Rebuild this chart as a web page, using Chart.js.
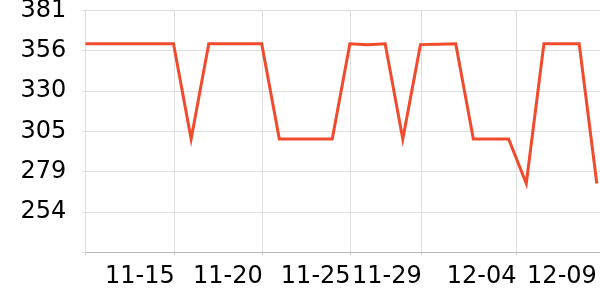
<!DOCTYPE html>
<html>
<head>
<meta charset="utf-8">
<script src="https://cdn.jsdelivr.net/npm/chart.js@4"></script>
<style>
  html, body { margin: 0; padding: 0; background: #fff; }
  #wrap { width: 600px; height: 300px; position: relative; }
</style>
</head>
<body>
<div id="wrap"><canvas id="c"></canvas></div>
<script>
// Day offsets from 11-10 (one reading per day)
const dayOffsets = [0,1,2,3,4,5,6,7,8,9,10,11,12,13,14,15,16,17,18,19,20,21,22,23,24,25,26,27,28,29];
const values = [360,360,360,360,360,360,300,360,360,360,360,300,300,300,300,360,359.4,360,300,359.5,359.8,360,300,300,300,272,360,360,360,272];
// X tick marks (day offsets) and their labels
const xTickDays = [0, 5.07, 10.06, 15.04, 19.07, 24.45, 29];
const xTickLabels = ['', '11-15', '11-20', '11-25', '11-29', '12-04', '12-09'];
const xMax = 29.18;
// Y ticks (mm; whole inches)
const yTicks = [228.6, 254, 279.4, 304.8, 330.2, 355.6, 381];

new Chart(document.getElementById('c'), {
  type: 'line',
  data: {
    datasets: [{
      data: dayOffsets.map((d, i) => ({ x: d, y: values[i] })),
      borderColor: '#ef4b2c',
      borderWidth: 3,
      pointRadius: 0,
      tension: 0,
      fill: false
    }]
  },
  options: {
    responsive: true,
    maintainAspectRatio: false,
    animation: false,
    layout: { padding: { left: 20.5, top: 0, right: 0, bottom: 8.6 } },
    plugins: { legend: { display: false }, tooltip: { enabled: false } },
    scales: {
      x: {
        type: 'linear',
        min: 0,
        max: xMax,
        afterBuildTicks: (s) => { s.ticks = xTickDays.map(v => ({ value: v })); },
        ticks: {
          autoSkip: false,
          maxRotation: 0,
          align: 'end',
          padding: 0,
          color: '#000',
          font: { family: 'DejaVu Sans', size: 24 },
          callback: (v, i) => xTickLabels[i]
        },
        grid: {
          color: (ctx) => (ctx.index === xTickDays.length - 1 ? 'rgba(0,0,0,0)' : '#dddddd'),
          tickColor: (ctx) => (ctx.index === xTickDays.length - 1 ? 'rgba(0,0,0,0)' : '#cccccc'),
          tickLength: 10.3,
          tickBorderDash: [2, 100],
          lineWidth: 1
        },
        border: { display: true, color: '#bbbbbb', width: 1 }
      },
      y: {
        type: 'linear',
        min: yTicks[0],
        max: yTicks[yTicks.length - 1],
        afterBuildTicks: (s) => { s.ticks = yTicks.map(v => ({ value: v })); },
        ticks: {
          padding: 0,
          color: '#000',
          font: { family: 'DejaVu Sans', size: 24, lineHeight: 0.875 },
          callback: (v, i) => (i === 0 ? '' : String(Math.round(v)))
        },
        grid: {
          color: (ctx) => (ctx.index === 0 ? 'rgba(0,0,0,0)' : '#dddddd'),
          tickColor: '#dddddd',
          tickLength: 19,
          tickBorderDash: [3, 16],
          tickBorderDashOffset: 3,
          lineWidth: 1
        },
        border: { display: true, color: '#dddddd', width: 1 }
      }
    }
  }
});
</script>
</body>
</html>
